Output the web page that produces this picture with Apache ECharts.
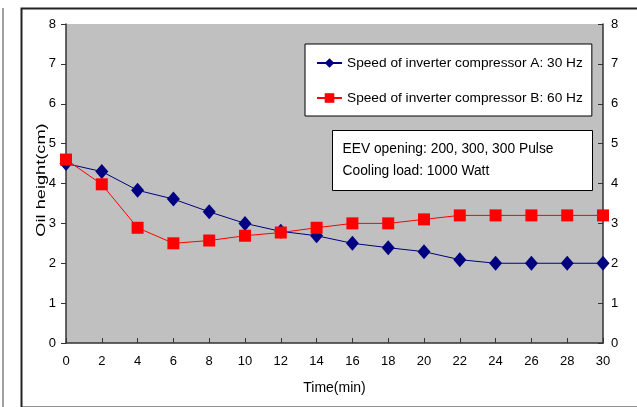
<!DOCTYPE html>
<html><head><meta charset="utf-8">
<script src="https://cdn.jsdelivr.net/npm/echarts@6/dist/echarts.min.js"></script>
<style>html,body{margin:0;padding:0;background:#fff}#c{width:637px;height:407px}</style>
</head><body><div id="c"></div>
<script>
var timeMin = [0, 2, 4, 6, 8, 10, 12, 14, 16, 18, 20, 22, 24, 26, 28, 30];
var seriesA = [4.5, 4.3, 3.83, 3.61, 3.29, 3.0, 2.8, 2.69, 2.5, 2.39, 2.29, 2.09, 2.0, 2.0, 2.0, 2.0];
var seriesB = [4.6, 3.98, 2.89, 2.5, 2.57, 2.69, 2.77, 2.89, 3.0, 3.0, 3.1, 3.2, 3.2, 3.2, 3.2, 3.2];
var nameA = 'Speed of inverter compressor A: 30 Hz';
var nameB = 'Speed of inverter compressor B: 60 Hz';
var xTitle = 'Time(min)';
var yTitle = 'Oil height(cm)';
var noteLines = ['EEV opening: 200, 300, 300 Pulse', 'Cooling load: 1000 Watt'];

function pairs(xs, ys){ return xs.map(function(x,i){return [x, ys[i]];}); }
var font = 'Liberation Sans, Arial, sans-serif';
var chart = echarts.init(document.getElementById('c'), null, {renderer:'canvas'});
chart.setOption({
  animation:false,
  backgroundColor:'#fff',
  textStyle:{fontFamily:font},
  grid:{left:66, right:34, top:24, bottom:64, show:true, backgroundColor:'#C0C0C0', borderWidth:0},
  xAxis:{type:'value', min:0, max:30, interval:2, name:xTitle, nameLocation:'middle', nameGap:38,
    nameTextStyle:{color:'#000', fontSize:14, fontFamily:font},
    axisLine:{lineStyle:{color:'#333', width:1.5}}, axisTick:{inside:true, length:5, lineStyle:{color:'#333'}},
    axisLabel:{color:'#000', fontSize:13, margin:12, fontFamily:font}, splitLine:{show:false}},
  yAxis:[
    {type:'value', min:0, max:8, interval:1, position:'left',
      axisLine:{show:true, lineStyle:{color:'#333', width:1.5}}, axisTick:{show:true, length:5, lineStyle:{color:'#333'}},
      axisLabel:{color:'#000', fontSize:13, margin:10, fontFamily:font}, splitLine:{show:false}},
    {type:'value', min:0, max:8, interval:1, position:'right',
      axisLine:{show:true, lineStyle:{color:'#333', width:1.5}}, axisTick:{show:true, inside:true, length:5, lineStyle:{color:'#333'}},
      axisLabel:{color:'#000', fontSize:13, margin:8, fontFamily:font}, splitLine:{show:false}}
  ],
  legend:{orient:'vertical', left:305, top:44, padding:[12,9,11,11], itemGap:21, itemWidth:25, itemHeight:12,
    backgroundColor:'#fff', borderColor:'#000', borderWidth:1,
    textStyle:{color:'#000', fontSize:13.7, fontFamily:font},
    data:[nameA, nameB]},
  graphic:[
    {type:'rect', left:19, top:6, shape:{width:640, height:399}, style:{fill:'none', stroke:'#222', lineWidth:2}, silent:true},
    {type:'line', shape:{x1:3, y1:8, x2:3, y2:407}, style:{stroke:'#444', lineWidth:1}},
    {type:'text', x:41, y:180, rotation:Math.PI/2, scaleX:1.4,
      style:{text:yTitle, fill:'#000', font:'13px ' + font, textAlign:'center', textVerticalAlign:'middle'}},
    {type:'group', left:332, top:130, children:[
      {type:'rect', shape:{x:0, y:0, width:260, height:60}, style:{fill:'#fff', stroke:'#000', lineWidth:1}},
      {type:'text', x:10, y:12, style:{text:noteLines[0], fill:'#000', font:'13.8px ' + font}},
      {type:'text', x:10, y:34, style:{text:noteLines[1], fill:'#000', font:'13.8px ' + font}}
    ]}
  ],
  series:[
    {name:nameA, type:'line', data:pairs(timeMin, seriesA), symbol:'diamond', symbolSize:[13,15],
      lineStyle:{color:'#000080', width:1}, itemStyle:{color:'#000080'}, z:3},
    {name:nameB, type:'line', data:pairs(timeMin, seriesB), symbol:'rect', symbolSize:12,
      lineStyle:{color:'#FF0000', width:1}, itemStyle:{color:'#FF0000'}, z:4}
  ]
});
</script></body></html>
